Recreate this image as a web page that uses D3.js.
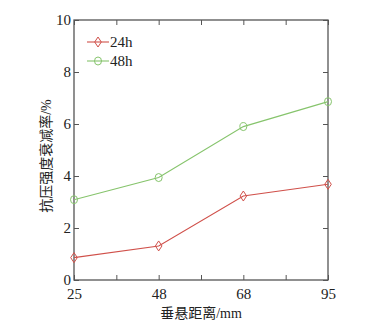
<!DOCTYPE html>
<html><head><meta charset="utf-8">
<script src="https://cdn.jsdelivr.net/npm/d3@7"></script>
<style>body{margin:0;background:#fff} svg text{font-family:"Liberation Serif","Times New Roman",serif}</style>
</head><body>
<svg id="c" width="369" height="334"></svg>
<script>
const categories = ["25","48","68","95"];
const s24 = [0.86, 1.31, 3.23, 3.68];
const s48 = [3.09, 3.94, 5.90, 6.86];
const yTicks = [0,2,4,6,8,10];
const seriesNames = ["24h","48h"];
const colors = ["#d0504a","#86c46c"];

const svg = d3.select("#c");
const L=74, T=20, R=328, B=280;
const x = d3.scaleLinear().domain([0,3]).range([L,R]);
const y = d3.scaleLinear().domain([0,10]).range([B,T]);
const axisColor = "#555";

svg.append("rect").attr("x",L).attr("y",T).attr("width",R-L).attr("height",B-T)
  .attr("fill","none").attr("stroke",axisColor).attr("stroke-width",1.3);

const xt = d3.range(0,3.01,0.5);
const gx = svg.append("g").attr("transform",`translate(0,${B})`)
  .call(d3.axisBottom(x).tickValues(xt).tickSize(-5).tickFormat(d=> Number.isInteger(d)?categories[d]:""));
gx.select(".domain").remove();
gx.selectAll("line").attr("stroke",axisColor);
gx.selectAll("text").attr("font-size",15).attr("fill","#222").attr("y",5).attr("dy","0.95em");
const gxt = svg.append("g").attr("transform",`translate(0,${T})`)
  .call(d3.axisTop(x).tickValues(xt).tickSize(-5).tickFormat(""));
gxt.select(".domain").remove(); gxt.selectAll("line").attr("stroke",axisColor);

const gy = svg.append("g").attr("transform",`translate(${L},0)`)
  .call(d3.axisLeft(y).tickValues(yTicks).tickSize(-5).tickFormat(d3.format("d")));
gy.select(".domain").remove(); gy.selectAll("line").attr("stroke",axisColor);
gy.selectAll("text").attr("font-size",15).attr("fill","#222").attr("x",-3);
const gyr = svg.append("g").attr("transform",`translate(${R},0)`)
  .call(d3.axisRight(y).tickValues(yTicks).tickSize(-5).tickFormat(""));
gyr.select(".domain").remove(); gyr.selectAll("line").attr("stroke",axisColor);

const line = d3.line().x((d,i)=>x(i)).y(d=>y(d));
function diamond(g, cx, cy, c){
  g.append("path").attr("d",`M${cx},${cy-5}L${cx+3.3},${cy}L${cx},${cy+5}L${cx-3.3},${cy}Z`)
   .attr("fill","none").attr("stroke",c).attr("stroke-width",1);
}
function ell(g, cx, cy, c){
  g.append("ellipse").attr("cx",cx).attr("cy",cy).attr("rx",3.5).attr("ry",4)
   .attr("fill","none").attr("stroke",c).attr("stroke-width",1);
}
[s24,s48].forEach((s,k)=>{
  const g = svg.append("g");
  g.append("path").attr("d",line(s)).attr("fill","none").attr("stroke",colors[k]).attr("stroke-width",1.1);
  s.forEach((v,i)=> (k===0?diamond:ell)(g, x(i), y(v), colors[k]));
});

seriesNames.forEach((n,k)=>{
  const ly = 42 + k*19;
  const g = svg.append("g");
  g.append("line").attr("x1",87).attr("x2",109).attr("y1",ly).attr("y2",ly).attr("stroke",colors[k]).attr("stroke-width",1.1);
  (k===0?diamond:ell)(g, 98, ly, colors[k]);
  g.append("text").attr("x",110).attr("y",ly+5).attr("font-size",15).attr("fill","#222").text(n);
});

const cjk = '"Liberation Serif","Noto Sans CJK SC",serif';
svg.append("text").attr("x",(L+R)/2).attr("y",318).attr("text-anchor","middle")
  .style("font-family",cjk).attr("font-size",14).attr("fill","#222").text("垂悬距离/mm");
svg.append("text").attr("transform",`translate(51,${(T+B)/2+6}) rotate(-90)`).attr("text-anchor","middle")
  .style("font-family",cjk).attr("font-size",14).attr("fill","#222").text("抗压强度衰减率/%");
</script>
</body></html>
